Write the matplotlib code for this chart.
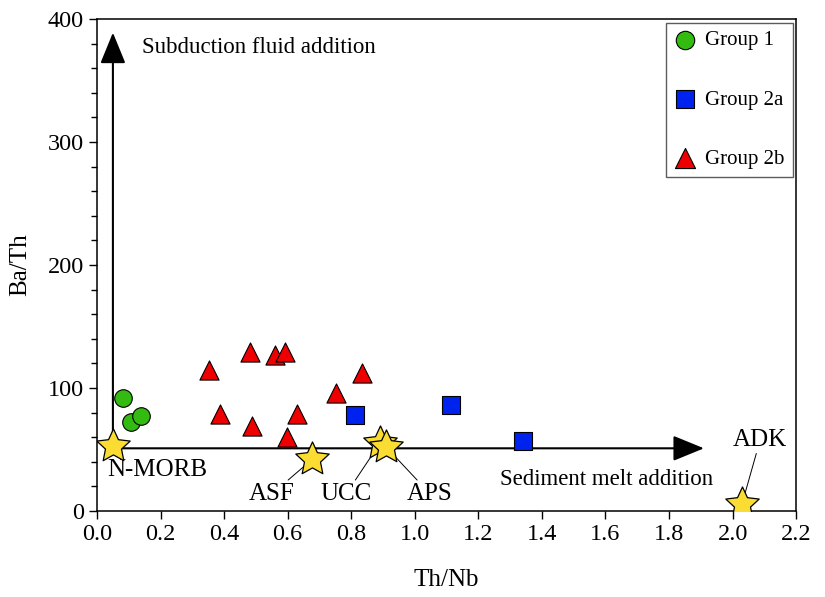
import matplotlib.pyplot as plt
from matplotlib.ticker import MultipleLocator
from matplotlib.path import Path

plt.rcParams['font.family'] = ['Liberation Serif', 'DejaVu Serif']
plt.rcParams['font.size'] = 17.5

# Th/Nb vs Ba/Th
g1_x = [0.082, 0.107, 0.139]
g1_y = [92, 72, 77]

g2a_x = [0.812, 1.114, 1.341]
g2a_y = [78, 86, 57]

g2b_x = [0.353, 0.482, 0.560, 0.592, 0.387, 0.488, 0.630, 0.598, 0.752, 0.834]
g2b_y = [115, 129, 127, 129, 79, 69, 79, 60, 96, 112]

# end-member compositions
ref_names = ['N-MORB', 'ASF', 'UCC', 'APS', 'ADK']
ref_x = [0.05, 0.677, 0.89, 0.91, 2.03]
ref_y = [53, 42, 55, 52, 6]

# a slightly fatter star than the default '*'
star = Path.unit_regular_star(5, innerCircle=0.48)

fig, ax = plt.subplots(figsize=(8.25, 5.97), dpi=100)
fig.subplots_adjust(left=0.1176, right=0.965, bottom=0.144, top=0.968)

# trend arrows from N-MORB
head = '-|>,head_length=1.1,head_width=0.45'
ax.annotate('', xy=(1.91, 51), xytext=(0.05, 51),
            arrowprops=dict(arrowstyle=head, color='black', lw=1.5,
                            shrinkA=0, shrinkB=0), zorder=1)
ax.annotate('', xy=(0.05, 389), xytext=(0.05, 51),
            arrowprops=dict(arrowstyle=head, color='black', lw=1.5,
                            shrinkA=0, shrinkB=0), zorder=1)

ax.scatter(g1_x, g1_y, marker='o', s=160, color='#33bb11', edgecolors='black',
           linewidths=0.8, label='Group 1', zorder=3)
ax.scatter(g2a_x, g2a_y, marker='s', s=150, color='#0022ee', edgecolors='black',
           linewidths=0.8, label='Group 2a', zorder=3)
ax.scatter(g2b_x, g2b_y, marker='^', s=190, color='#ee0000', edgecolors='black',
           linewidths=0.8, label='Group 2b', zorder=3)
ax.scatter(ref_x, ref_y, marker=star, s=640, color='#fbdc32', edgecolors='black',
           linewidths=0.9, zorder=4)

ax.text(0.142, 377, 'Subduction fluid addition', fontsize=16.5, va='center')
ax.text(1.94, 26, 'Sediment melt addition', fontsize=16.5, va='center', ha='right')
ax.text(0.031, 33, 'N-MORB', fontsize=18, va='center')

line = dict(arrowstyle='-', color='black', lw=0.7, shrinkA=0, shrinkB=7)
ax.annotate('ASF', xy=(ref_x[1], ref_y[1]), xytext=(0.551, 14), fontsize=18,
            ha='center', va='center', arrowprops=line)
ax.annotate('UCC', xy=(ref_x[2], ref_y[2]), xytext=(0.784, 14), fontsize=18,
            ha='center', va='center', arrowprops=line)
ax.annotate('APS', xy=(ref_x[3], ref_y[3]), xytext=(1.048, 14), fontsize=18,
            ha='center', va='center', arrowprops=line)
ax.annotate('ADK', xy=(ref_x[4], ref_y[4]), xytext=(2.087, 58), fontsize=18,
            ha='center', va='center', arrowprops=line)

ax.set_xlim(0, 2.2)
ax.set_ylim(0, 400)
ax.xaxis.set_major_locator(MultipleLocator(0.2))
ax.yaxis.set_major_locator(MultipleLocator(100))
ax.yaxis.set_minor_locator(MultipleLocator(20))
ax.xaxis.set_major_formatter(plt.FuncFormatter(lambda v, p: f'{v:.1f}'))
ax.tick_params(which='major', direction='out', length=6, width=1, labelsize=17.5)
ax.tick_params(which='minor', direction='out', length=4, width=1)
ax.tick_params(top=False, right=False)
for s in ax.spines.values():
    s.set_linewidth(1.1)

ax.set_xlabel('Th/Nb', fontsize=18, labelpad=17)
ax.set_ylabel('Ba/Th', fontsize=18, labelpad=12)

leg = ax.legend(loc='upper right', bbox_to_anchor=(0.995, 0.993), frameon=True,
                fancybox=False, edgecolor='#333333', labelspacing=1.9,
                handletextpad=0.45, borderpad=0.4, fontsize=15, handlelength=1.0,
                borderaxespad=0, markerscale=1.05)
leg.get_frame().set_linewidth(1.0)

fig.savefig('out.png', dpi=100)
